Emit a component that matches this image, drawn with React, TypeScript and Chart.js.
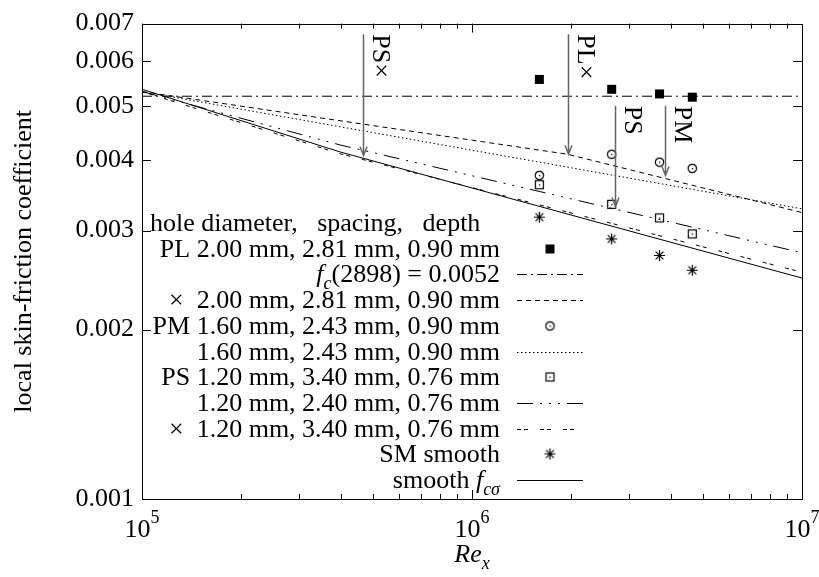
import { useEffect, useRef } from "react";
import { Chart, registerables } from "chart.js";
Chart.register(...registerables);

const FONT = "'Liberation Serif', 'Times New Roman', serif";
const FS = 26;

// measured data points (Re_x, cf)
const reCats = [1.6e6, 2.65e6, 3.7e6, 4.65e6];
const plValues = [5.57e-3, 5.35e-3, 5.25e-3, 5.18e-3];
const pmValues = [3.76e-3, 4.1e-3, 3.97e-3, 3.87e-3];
const psValues = [3.62e-3, 3.34e-3, 3.16e-3, 2.96e-3];
const smValues = [3.17e-3, 2.9e-3, 2.71e-3, 2.55e-3];

// reference lines
const fcRe = [1e5, 1e7];
const fcValues = [0.0052, 0.0052];
const plxRe = [1e5, 1.95e6, 1e7];
const plxValues = [5.3e-3, 4.1e-3, 3.23e-3];
const pmLineRe = [1e5, 1e7];
const pmLineValues = [5.3e-3, 3.28e-3];
const psLineRe = [1e5, 3.98e5, 1e7];
const psLineValues = [5.3e-3, 4.26e-3, 2.74e-3];
const psxRe = [1e5, 3.98e5, 1e7];
const psxValues = [5.3e-3, 4.11e-3, 2.53e-3];
const smoothRe = [1e5, 3.98e5, 1e7];
const smoothValues = [5.35e-3, 4.14e-3, 2.47e-3];

// arrows
const arrowRe = [4.67e5, 1.95e6, 2.71e6, 3.85e6];
const arrowTop = [6.7e-3, 6.7e-3, 5.0e-3, 5.0e-3];
const arrowTip = [4.08e-3, 4.1e-3, 3.31e-3, 3.76e-3];
const arrowLabels = ["PS×", "PL×", "PS", "PM"];

// axis ticks
const yTicks = [0.001, 0.002, 0.003, 0.004, 0.005, 0.006, 0.007];
const xDecades = [5, 6, 7];

type Piece = { t: string; italic?: boolean; sub?: boolean };

function makeMarker(kind: string): HTMLCanvasElement {
  const c = document.createElement("canvas");
  c.width = 13;
  c.height = 13;
  const g = c.getContext("2d")!;
  g.strokeStyle = "#000";
  g.fillStyle = "#000";
  g.lineWidth = 1.2;
  if (kind === "filled") g.fillRect(2, 2, 9, 9);
  else if (kind === "circle") {
    g.beginPath();
    g.arc(6.5, 6.5, 4.2, 0, 2 * Math.PI);
    g.stroke();
    g.fillRect(6, 6, 1.3, 1.3);
  } else if (kind === "square") {
    g.strokeRect(2.5, 2.5, 8, 8);
    g.fillRect(6, 6, 1.3, 1.3);
  } else if (kind === "star") {
    g.beginPath();
    g.moveTo(6.5, 1);
    g.lineTo(6.5, 12);
    g.moveTo(1, 6.5);
    g.lineTo(12, 6.5);
    g.moveTo(2.6, 2.6);
    g.lineTo(10.4, 10.4);
    g.moveTo(10.4, 2.6);
    g.lineTo(2.6, 10.4);
    g.stroke();
  }
  return c;
}

function fontFor(p: Piece, size: number) {
  const s = p.sub ? Math.round(size * 0.7) : size;
  return `${p.italic ? "italic " : ""}${s}px ${FONT}`;
}

function drawPieces(
  ctx: CanvasRenderingContext2D,
  pieces: Piece[],
  x: number,
  baseline: number,
  align: "left" | "right" | "center",
  size = FS
) {
  ctx.textAlign = "left";
  ctx.textBaseline = "alphabetic";
  const widths = pieces.map((p) => {
    ctx.font = fontFor(p, size);
    return ctx.measureText(p.t).width;
  });
  const total = widths.reduce((a, b) => a + b, 0);
  let cx = align === "left" ? x : align === "right" ? x - total : x - total / 2;
  pieces.forEach((p, i) => {
    ctx.font = fontFor(p, size);
    ctx.fillText(p.t, cx, baseline + (p.sub ? size * 0.25 : 0));
    cx += widths[i];
  });
}

export default function App() {
  const ref = useRef<HTMLCanvasElement>(null);

  useEffect(() => {
    const canvas = ref.current!;
    const mFilled = makeMarker("filled");
    const mCircle = makeMarker("circle");
    const mSquare = makeMarker("square");
    const mStar = makeMarker("star");

    const pts = (xs: number[], ys: number[]) => xs.map((x, i) => ({ x, y: ys[i] }));
    const lineDs = (xs: number[], ys: number[], dash: number[]) => ({
      data: pts(xs, ys),
      showLine: true,
      borderColor: "#000",
      borderWidth: 1,
      borderDash: dash,
      pointRadius: 0,
      fill: false,
      tension: 0,
    });
    const markDs = (ys: number[], style: HTMLCanvasElement) => ({
      data: pts(reCats, ys),
      showLine: false,
      pointStyle: style,
      pointRadius: 6,
    });

    const dashFc = [10, 4, 2, 4];
    const dashPlx = [5, 4];
    const dashPm = [1.5, 2.5];
    const dashPs = [16, 7, 2, 7, 2, 7, 2, 7];
    const dashPsx = [4, 3, 4, 12];

    const legendRows: { pieces: Piece[]; dash?: number[]; marker?: HTMLCanvasElement }[] = [
      { pieces: [{ t: "PL 2.00 mm, 2.81 mm, 0.90 mm" }], marker: mFilled },
      {
        pieces: [{ t: "f", italic: true }, { t: "c", italic: true, sub: true }, { t: "(2898) = 0.0052" }],
        dash: dashFc,
      },
      { pieces: [{ t: "×  2.00 mm, 2.81 mm, 0.90 mm" }], dash: dashPlx },
      { pieces: [{ t: "PM 1.60 mm, 2.43 mm, 0.90 mm" }], marker: mCircle },
      { pieces: [{ t: "1.60 mm, 2.43 mm, 0.90 mm" }], dash: dashPm },
      { pieces: [{ t: "PS 1.20 mm, 3.40 mm, 0.76 mm" }], marker: mSquare },
      { pieces: [{ t: "1.20 mm, 2.40 mm, 0.76 mm" }], dash: dashPs },
      { pieces: [{ t: "×  1.20 mm, 3.40 mm, 0.76 mm" }], dash: dashPsx },
      { pieces: [{ t: "SM smooth" }], marker: mStar },
      {
        pieces: [{ t: "smooth " }, { t: "f", italic: true }, { t: "cσ", italic: true, sub: true }],
        dash: [],
      },
    ];

    const decor = {
      id: "decor",
      afterDraw(chart: any) {
        const ctx: CanvasRenderingContext2D = chart.ctx;
        const xs = chart.scales.x;
        const ys = chart.scales.y;
        const a = chart.chartArea;
        ctx.save();
        ctx.fillStyle = "#000";
        ctx.strokeStyle = "#000";
        ctx.lineWidth = 1;
        ctx.strokeRect(Math.round(a.left) + 0.5, Math.round(a.top) + 0.5, Math.round(a.right - a.left), Math.round(a.bottom - a.top));
        ctx.beginPath();
        for (let d = 5; d < 7; d++) {
          for (let m = 1; m <= 9; m++) {
            const v = m * Math.pow(10, d);
            const px = Math.round(xs.getPixelForValue(v)) + 0.5;
            const len = m === 1 ? 9 : 5;
            ctx.moveTo(px, a.bottom);
            ctx.lineTo(px, a.bottom - len);
            ctx.moveTo(px, a.top);
            ctx.lineTo(px, a.top + len);
          }
        }
        yTicks.forEach((v) => {
          const py = Math.round(ys.getPixelForValue(v)) + 0.5;
          ctx.moveTo(a.left, py);
          ctx.lineTo(a.left + 9, py);
          ctx.moveTo(a.right, py);
          ctx.lineTo(a.right - 9, py);
        });
        ctx.stroke();

        xDecades.forEach((d) => {
          const px = xs.getPixelForValue(Math.pow(10, d));
          ctx.font = `${FS}px ${FONT}`;
          const w1 = ctx.measureText("10").width;
          ctx.font = `${Math.round(FS * 0.7)}px ${FONT}`;
          const w2 = ctx.measureText(String(d)).width;
          const start = px - (w1 + w2) / 2;
          ctx.textAlign = "left";
          ctx.textBaseline = "alphabetic";
          ctx.font = `${FS}px ${FONT}`;
          ctx.fillText("10", start, 537);
          ctx.font = `${Math.round(FS * 0.7)}px ${FONT}`;
          ctx.fillText(String(d), start + w1, 523);
        });

        drawPieces(ctx, [{ t: "Re", italic: true }, { t: "x", italic: true, sub: true }], (a.left + a.right) / 2, 562, "center");
        ctx.save();
        ctx.translate(31, (a.top + a.bottom) / 2);
        ctx.rotate(-Math.PI / 2);
        ctx.font = `${FS}px ${FONT}`;
        ctx.textAlign = "center";
        ctx.textBaseline = "alphabetic";
        ctx.fillText("local skin-friction coefficient", 0, 0);
        ctx.restore();

        ctx.strokeStyle = "#666";
        ctx.lineWidth = 1.5;
        arrowRe.forEach((re, i) => {
          const px = Math.round(xs.getPixelForValue(re)) + 0.5;
          const y0 = ys.getPixelForValue(arrowTop[i]);
          const y1 = ys.getPixelForValue(arrowTip[i]);
          ctx.beginPath();
          ctx.moveTo(px, y0);
          ctx.lineTo(px, y1);
          ctx.moveTo(px - 3.5, y1 - 9);
          ctx.lineTo(px, y1);
          ctx.lineTo(px + 3.5, y1 - 9);
          ctx.stroke();
          ctx.save();
          ctx.translate(px + 9, y0);
          ctx.rotate(Math.PI / 2);
          ctx.fillStyle = "#000";
          ctx.font = `${FS}px ${FONT}`;
          ctx.textAlign = "left";
          ctx.textBaseline = "alphabetic";
          ctx.fillText(arrowLabels[i], 0, 0);
          ctx.restore();
        });

        ctx.fillStyle = "#000";
        ctx.strokeStyle = "#000";
        ctx.lineWidth = 1;
        const row0 = 223;
        const step = 25.7;
        ctx.font = `${FS}px ${FONT}`;
        ctx.textAlign = "left";
        ctx.textBaseline = "alphabetic";
        ctx.fillText("hole diameter,   spacing,   depth", 150, row0 + 8);
        legendRows.forEach((r, i) => {
          const cy = row0 + step * (i + 1);
          drawPieces(ctx, r.pieces, 500, cy + 8, "right");
          if (r.marker) {
            ctx.drawImage(r.marker, 550 - 6.5, Math.round(cy) - 6.5);
          } else if (r.dash) {
            ctx.save();
            ctx.setLineDash(r.dash);
            ctx.beginPath();
            ctx.moveTo(517, Math.round(cy) + 0.5);
            ctx.lineTo(583, Math.round(cy) + 0.5);
            ctx.stroke();
            ctx.restore();
          }
        });
        ctx.restore();
      },
    };

    const chart = new Chart(canvas, {
      type: "scatter",
      data: {
        datasets: [
          lineDs(fcRe, fcValues, dashFc),
          lineDs(plxRe, plxValues, dashPlx),
          lineDs(pmLineRe, pmLineValues, dashPm),
          lineDs(psLineRe, psLineValues, dashPs),
          lineDs(psxRe, psxValues, dashPsx),
          lineDs(smoothRe, smoothValues, []),
          markDs(plValues, mFilled),
          markDs(pmValues, mCircle),
          markDs(psValues, mSquare),
          markDs(smValues, mStar),
        ] as any,
      },
      options: {
        responsive: false,
        animation: false,
        layout: { padding: { left: 0, top: 13, right: 17, bottom: 0 } },
        plugins: { legend: { display: false }, tooltip: { enabled: false } },
        scales: {
          x: {
            type: "logarithmic",
            min: 1e5,
            max: 1e7,
            grid: { display: false, drawTicks: false },
            border: { display: false },
            ticks: { display: false },
            afterFit: (s: any) => {
              s.height = 78;
            },
          },
          y: {
            type: "logarithmic",
            min: 0.001,
            max: 0.007,
            grid: { display: false, drawTicks: false },
            border: { display: false },
            afterBuildTicks: (s: any) => {
              s.ticks = yTicks.map((v) => ({ value: v }));
            },
            ticks: {
              color: "#000",
              padding: 8,
              font: { family: FONT, size: FS },
              callback: (v: any) => Number(v).toFixed(3),
            },
            afterFit: (s: any) => {
              s.width = 142;
            },
          },
        },
      } as any,
      plugins: [decor],
    });
    return () => chart.destroy();
  }, []);

  return (
    <div style={{ position: "absolute", left: 0, top: 0, width: 819, height: 577, background: "#fff" }}>
      <canvas ref={ref} width={819} height={577} />
    </div>
  );
}
